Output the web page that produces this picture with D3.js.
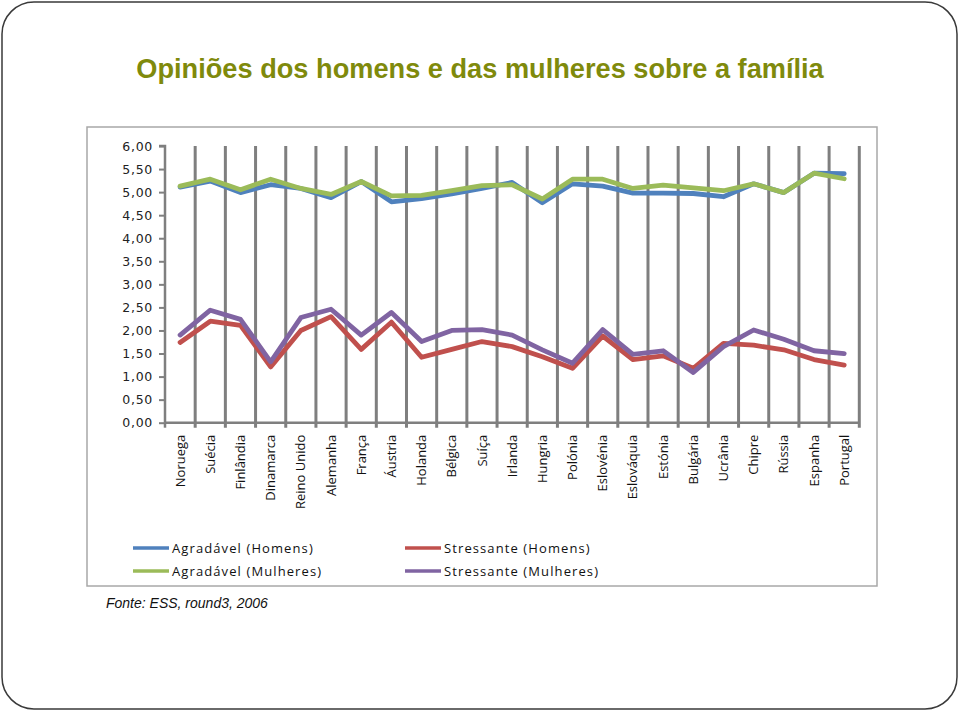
<!DOCTYPE html>
<html><head><meta charset="utf-8">
<script src="https://cdn.jsdelivr.net/npm/d3@7"></script>
<style>html,body{margin:0;padding:0;background:#fff;}</style>
</head><body>
<script>
const title = "Opiniões dos homens e das mulheres sobre a família";
const source = "Fonte: ESS, round3, 2006";
const countries = ["Noruega","Suécia","Finlândia","Dinamarca","Reino Unido","Alemanha","França","Áustria","Holanda","Bélgica","Suíça","Irlanda","Hungria","Polónia","Eslovénia","Eslováquia","Estónia","Bulgária","Ucrânia","Chipre","Rússia","Espanha","Portugal"];
const agradavelHomens  = [5.11,5.24,4.99,5.16,5.08,4.88,5.23,4.79,4.86,4.96,5.08,5.21,4.77,5.18,5.13,4.98,4.98,4.97,4.90,5.18,4.99,5.41,5.40];
const agradavelMulheres= [5.13,5.28,5.05,5.28,5.08,4.95,5.23,4.92,4.93,5.03,5.14,5.16,4.85,5.28,5.28,5.08,5.15,5.09,5.03,5.18,4.99,5.41,5.29];
const stressanteHomens = [1.74,2.20,2.11,1.21,2.00,2.30,1.59,2.18,1.42,1.59,1.76,1.65,1.43,1.18,1.88,1.37,1.45,1.18,1.72,1.68,1.58,1.37,1.25];
const stressanteMulheres=[1.90,2.44,2.24,1.32,2.28,2.46,1.90,2.39,1.76,2.00,2.02,1.90,1.58,1.29,2.02,1.48,1.56,1.09,1.65,2.01,1.81,1.56,1.50];
const yTicks = [0,0.5,1,1.5,2,2.5,3,3.5,4,4.5,5,5.5,6];
const seriesNames = ["Agradável (Homens)","Agradável (Mulheres)","Stressante (Homens)","Stressante (Mulheres)"];
const seriesColors = ["#4f81bd","#9bbb59","#c0504d","#8064a2"];

const W=960,H=712;
const svg=d3.select("body").append("svg").attr("width",W).attr("height",H);

// outer slide frame
svg.append("rect").attr("x",2).attr("y",2).attr("width",955).attr("height",707)
  .attr("rx",32).attr("ry",32).attr("fill","#fff").attr("stroke","#3a3a3a").attr("stroke-width",1.5);

// title
svg.append("text").attr("x",480).attr("y",78).attr("text-anchor","middle")
  .attr("font-family","Liberation Sans, Arial, sans-serif").attr("font-weight","bold")
  .attr("font-size",27.2).attr("fill","#7f8a0c").text(title);

// chart box
svg.append("rect").attr("x",87).attr("y",127).attr("width",790).attr("height",459)
  .attr("fill","#fff").attr("stroke","#a8a8a8").attr("stroke-width",1.5);

const x0=165,x1=859.3,yTop=146,yBot=422.7;
const x=d3.scaleBand().domain(countries).range([x0,x1]).padding(0);
const y=d3.scaleLinear().domain([0,6]).range([yBot,yTop]);

// vertical gridlines at category boundaries
const g=svg.append("g");
const bounds=countries.map((c,i)=>x(c)+x.bandwidth());
g.selectAll("line.vg").data(bounds).join("line").attr("class","vg")
  .attr("x1",d=>d).attr("x2",d=>d).attr("y1",yTop).attr("y2",yBot+5)
  .attr("stroke","#7f7f7f").attr("stroke-width",3);

// y axis
const yAxis=d3.axisLeft(y).tickValues(yTicks).tickSize(6).tickFormat(d=>d3.format(".2f")(d).replace(".",","));
const ya=svg.append("g").attr("transform",`translate(${x0},0)`).call(yAxis);
ya.select(".domain").attr("stroke","#7f7f7f").attr("stroke-width",2.5).attr("d",`M-6,${yTop}H0V${yBot}`);
ya.selectAll(".tick line").attr("stroke","#7f7f7f").attr("stroke-width",2);
ya.selectAll(".tick text").attr("x",-12).attr("font-family","DejaVu Sans, Verdana, sans-serif")
  .attr("font-size",12.5).attr("fill","#222").attr("letter-spacing",0.7);

// x axis
const xa=svg.append("g").attr("transform",`translate(0,${yBot})`)
  .call(d3.axisBottom(x).tickSize(0).tickPadding(0));
xa.select(".domain").attr("stroke","#7f7f7f").attr("stroke-width",2.5).attr("d",`M${x0},0H${x1}`);
xa.selectAll(".tick text").attr("transform","rotate(-90)").attr("text-anchor","end")
  .attr("x",-12).attr("y",0).attr("dy","0.35em")
  .attr("font-family","Open Sans, Noto Sans, sans-serif").attr("font-size",13).attr("fill","#111");
svg.append("line").attr("x1",x0).attr("x2",x0).attr("y1",yBot).attr("y2",yBot+5).attr("stroke","#7f7f7f").attr("stroke-width",2.5);

// lines
const allSeries=[agradavelHomens,agradavelMulheres,stressanteHomens,stressanteMulheres];
const line=d3.line().x((d,i)=>x(countries[i])+x.bandwidth()/2).y(d=>y(d));
[0,1,2,3].forEach(k=>{
  svg.append("path").datum(allSeries[k]).attr("d",line).attr("fill","none")
    .attr("stroke",seriesColors[k]).attr("stroke-width",4.8).attr("stroke-linejoin","round").attr("stroke-linecap","round");
});

// legend
const legPos=[[133,548],[133,571],[405,548],[405,571]];
[0,1,2,3].forEach((k,i)=>{
  const [lx,ly]=legPos[i];
  svg.append("line").attr("x1",lx).attr("x2",lx+36).attr("y1",ly).attr("y2",ly)
    .attr("stroke",seriesColors[k]).attr("stroke-width",3.5);
  svg.append("text").attr("x",lx+39).attr("y",ly).attr("dy","0.35em")
    .attr("font-family","Open Sans, Noto Sans, sans-serif").attr("font-size",13)
    .attr("letter-spacing",1.1).attr("fill","#111").text(seriesNames[k]);
});

// source
svg.append("text").attr("x",106).attr("y",608).attr("font-family","Liberation Sans, Arial, sans-serif")
  .attr("font-style","italic").attr("font-size",14).attr("fill","#111").text(source);
</script>
</body></html>
